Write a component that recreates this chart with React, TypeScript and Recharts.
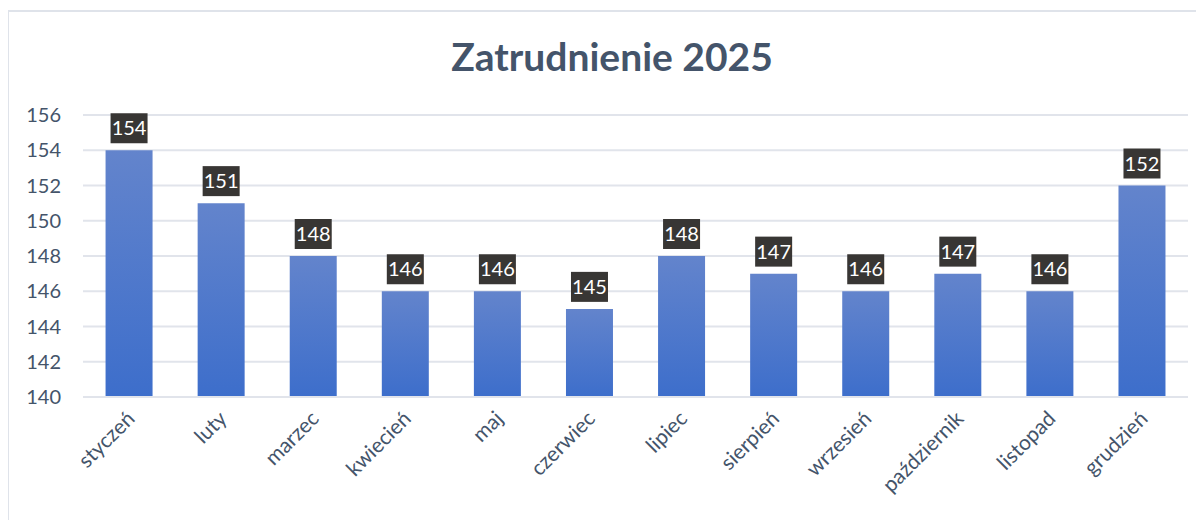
import React from "react";
import { BarChart, Bar, XAxis, YAxis, CartesianGrid, LabelList } from "recharts";

const months = ["styczeń", "luty", "marzec", "kwiecień", "maj", "czerwiec", "lipiec", "sierpień", "wrzesień", "październik", "listopad", "grudzień"];
const employment = [154, 151, 148, 146, 146, 145, 148, 147, 146, 147, 146, 152];
const yTicks = [140, 142, 144, 146, 148, 150, 152, 154, 156];
const title = "Zatrudnienie 2025";

const data = months.map((m, i) => ({ month: m, value: employment[i] }));

const FONT = "Lato, 'Open Sans', sans-serif";
const TEXT = "#44546a";

const LabelBox = (props: any) => {
  const { x, y, width, value } = props;
  const cx = x + width / 2;
  const w = 37;
  const h = 30;
  const bottom = y - 7;
  return (
    <g>
      <rect x={cx - w / 2} y={bottom - h} width={w} height={h} fill="#383634" />
      <text x={cx} y={bottom - h / 2} dy="0.36em" textAnchor="middle" fill="#ffffff" fontSize={20} fontFamily={FONT}>
        {value}
      </text>
    </g>
  );
};

const XTick = (props: any) => {
  const { x, y, payload } = props;
  return (
    <g transform={`translate(${x + 7},${y + 15})`}>
      <text x={0} y={0} textAnchor="end" transform="rotate(-45)" fill={TEXT} fontSize={21} fontFamily={FONT}>
        {payload.value}
      </text>
    </g>
  );
};

export default function App() {
  return (
    <div style={{ position: "relative", width: 1196, height: 512 }}>
      <div style={{ position: "absolute", left: -1, top: 2, right: -20, bottom: -20, borderLeft: "2px solid #dfe3ea", borderTop: "2px solid #dfe3ea" }} />
      <div style={{ position: "absolute", left: 0, top: 25, width: 1208, textAlign: "center", fontFamily: FONT, fontWeight: 700, fontSize: 39, color: TEXT }}>
        {title}
      </div>
      <BarChart width={1196} height={512} data={data} margin={{ top: 107, right: 16, bottom: 0, left: 0 }} barCategoryGap="24.5%">
        <defs>
          <linearGradient id="barGrad" x1="0" y1="0" x2="0" y2="1">
            <stop offset="0%" stopColor="#6384cc" />
            <stop offset="100%" stopColor="#3d6ecb" />
          </linearGradient>
        </defs>
        <CartesianGrid vertical={false} stroke="#e1e4eb" strokeWidth={2} />
        <YAxis domain={[140, 156]} ticks={yTicks} axisLine={false} tickLine={false} tickSize={0} tickMargin={22} width={75} tick={{ fill: TEXT, fontSize: 20, fontFamily: FONT }} interval={0} />
        <XAxis dataKey="month" axisLine={{ stroke: "#e1e4eb", strokeWidth: 2 }} tickLine={false} height={123} interval={0} tick={<XTick />} />
        <Bar dataKey="value" fill="url(#barGrad)" isAnimationActive={false}>
          <LabelList dataKey="value" content={<LabelBox />} />
        </Bar>
      </BarChart>
    </div>
  );
}
